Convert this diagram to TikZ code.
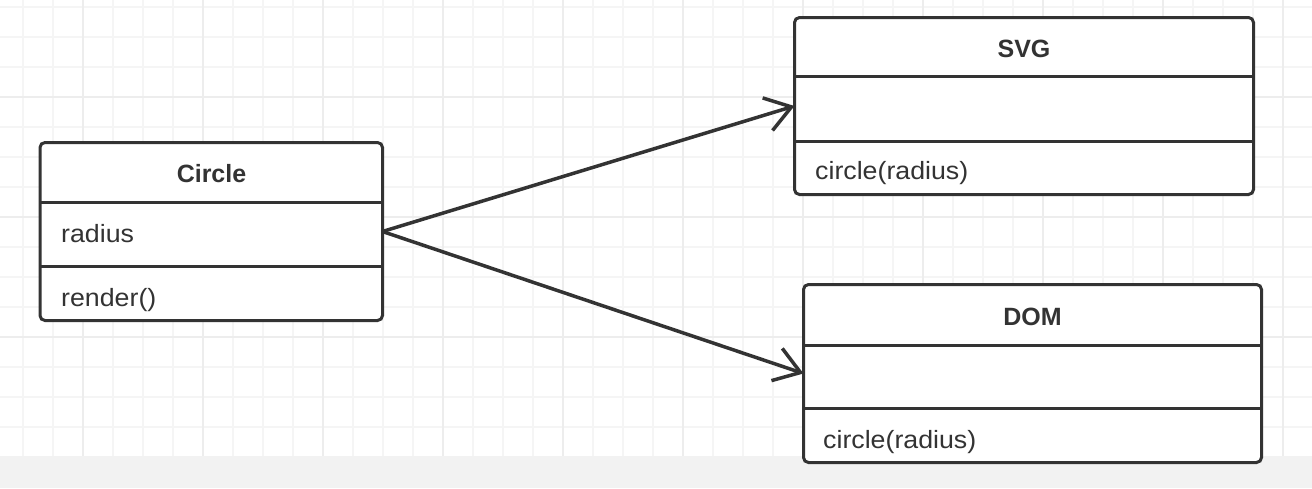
\documentclass[tikz,border=0pt]{standalone}
\usepackage{fontspec}
\setmainfont{Liberation Sans}
\newfontfamily\bodyf[FakeStretch=1.07]{Liberation Sans}
\usetikzlibrary{arrows.meta}
\definecolor{ink}{HTML}{333333}
\definecolor{gridminor}{HTML}{F5F5F5}
\definecolor{gridmajor}{HTML}{EDEDED}
\definecolor{band}{HTML}{F2F2F2}
\tikzset{
  classbox/.style={draw=ink, line width=3pt, rounded corners=5pt, fill=white, inner sep=0, outer sep=0, anchor=north west},
  divider/.style={draw=ink, line width=3pt},
  titletext/.style={inner sep=0, anchor=base, text=ink, font=\fontsize{25}{30}\selectfont\bfseries},
  membertext/.style={inner sep=0, anchor=base west, text=ink, font=\bodyf\fontsize{25}{30}\selectfont},
  arr/.style={draw=ink, line width=3.5pt, -{Straight Barb[length=25pt, width=34pt]}},
}
\begin{document}
\begin{tikzpicture}[x=1pt, y=-1pt]
\useasboundingbox (0,0) rectangle (1312,488);
\fill[white] (0,0) rectangle (1312,488);
% grid
\foreach \y in {7,37,...,427} \draw[gridminor, line width=2pt] (0,\y) -- (1312,\y);
\foreach \x in {23,53,...,1283} \draw[gridminor, line width=2pt] (\x,0) -- (\x,456);
\foreach \y in {97,217,337} \draw[gridmajor, line width=2pt] (0,\y) -- (1312,\y);
\foreach \x in {83,203,...,1283} \draw[gridmajor, line width=2pt] (\x,0) -- (\x,456);
\fill[band] (0,456) rectangle (1312,488);
% Circle class
\node[classbox, minimum width=342.5pt, minimum height=178pt] (circle) at (40,142.5) {};
\draw[divider] (circle.west |- 0,202) -- (circle.east |- 0,202);
\draw[divider] (circle.west |- 0,266) -- (circle.east |- 0,266);
\node[titletext] (circletitle) at (211.5,182) {Circle};
\node[membertext] (circleattr) at (61,242) {radius};
\node[membertext] (circleop) at (61,306) {render()};
% SVG class
\node[classbox, minimum width=459pt, minimum height=177pt] (svg) at (794.5,17.5) {};
\draw[divider] (svg.west |- 0,76) -- (svg.east |- 0,76);
\draw[divider] (svg.west |- 0,141) -- (svg.east |- 0,141);
\node[titletext] (svgtitle) at (1024,57) {SVG};
\node[membertext] (svgop) at (815,179) {circle(radius)};
% DOM class
\node[classbox, minimum width=458pt, minimum height=178pt] (dom) at (803.5,284.5) {};
\draw[divider] (dom.west |- 0,345) -- (dom.east |- 0,345);
\draw[divider] (dom.west |- 0,408) -- (dom.east |- 0,408);
\node[titletext] (domtitle) at (1032.5,325) {DOM};
\node[membertext] (domop) at (823,448) {circle(radius)};
% connectors
\draw[arr] (circle.east) -- (svg.west);
\draw[arr] (circle.east) -- (dom.west);
\end{tikzpicture}
\end{document}
